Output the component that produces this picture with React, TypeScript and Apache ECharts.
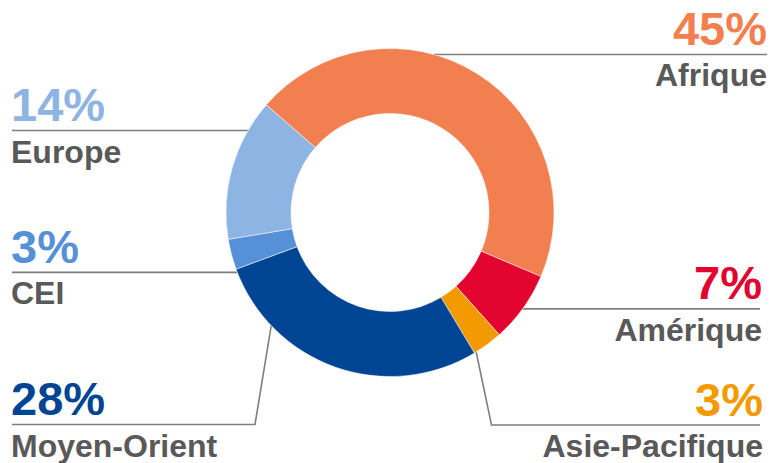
import React, { useEffect, useRef } from "react";
import * as echarts from "echarts";

const categories = ["Afrique", "Amérique", "Asie-Pacifique", "Moyen-Orient", "CEI", "Europe"];
const shares = [45, 7, 3, 28, 3, 14];
const colors = ["#F27F50", "#E3032F", "#F39A00", "#004593", "#5690D6", "#8EB4E3"];

// label placement: attach angle (deg clockwise from top), side, text x, optional bend & line y
const LABEL_LAYOUT = [
  { angle: 15.5, side: "right", textX: 767, lineEnd: 767 },
  { angle: 126, side: "right", textX: 762, lineEnd: 760 },
  { angle: 148.3, side: "right", textX: 763, lineEnd: 760, bendX: 491.5, lineY: 425 },
  { angle: 226.4, side: "left", textX: 11, lineEnd: 12, bendX: 255, lineY: 424.5 },
  { angle: 248.6, side: "left", textX: 11, lineEnd: 12 },
  { angle: 300, side: "left", textX: 11, lineEnd: 12 },
];

const W = 771;
const H = 463;
const CX = 390;
const CY = 212.5;
const R_IN = 99;
const R_OUT = 164;
const P_LH = 52;
const N_LH = 42;
const FONT = "'Liberation Sans', Arial, Helvetica, sans-serif";

export default function App() {
  const ref = useRef<HTMLDivElement>(null);
  useEffect(() => {
    if (!ref.current) return;
    const chart = echarts.init(ref.current, undefined, { renderer: "svg" });
    const rich: Record<string, any> = {
      n: { fontSize: 32, fontWeight: "bold", color: "#595959", fontFamily: FONT, lineHeight: N_LH },
    };
    colors.forEach((c, i) => {
      rich["p" + i] = { fontSize: 47, fontWeight: "bold", color: c, fontFamily: FONT, lineHeight: P_LH };
    });
    chart.setOption({
      animation: false,
      backgroundColor: "#ffffff",
      series: [
        {
          type: "pie",
          center: [CX, CY],
          radius: [R_IN, R_OUT],
          startAngle: 139,
          clockwise: true,
          avoidLabelOverlap: false,
          silent: true,
          itemStyle: { borderColor: "#ffffff", borderWidth: 0.5 },
          data: categories.map((name, i) => ({
            name,
            value: shares[i],
            itemStyle: { color: colors[i] },
          })),
          label: {
            show: true,
            position: "outside",
            formatter: (p: any) => `{p${p.dataIndex}|${p.value}%}\n{n|${p.name}}`,
            rich,
          },
          labelLine: {
            show: true,
            smooth: false,
            lineStyle: { color: "#7F7F7F", width: 1.6 },
          },
          labelLayout: (params: any) => {
            const L: any = LABEL_LAYOUT[params.dataIndex];
            const a = (L.angle * Math.PI) / 180;
            const ax = CX + R_OUT * Math.sin(a);
            const ay = CY - R_OUT * Math.cos(a);
            const lineY = L.lineY != null ? L.lineY : ay;
            const pts =
              L.bendX != null
                ? [[ax, ay], [L.bendX, lineY], [L.lineEnd, lineY]]
                : [[ax, ay], [(ax + L.lineEnd) / 2, ay], [L.lineEnd, ay]];
            return {
              x: L.textX,
              y: lineY - P_LH,
              align: L.side === "right" ? "right" : "left",
              verticalAlign: "top",
              labelLinePoints: pts,
            };
          },
        },
      ],
    });
    return () => chart.dispose();
  }, []);
  return (
    <div
      ref={ref}
      style={{ position: "fixed", left: 0, top: 0, width: W, height: H, background: "#fff" }}
    />
  );
}
